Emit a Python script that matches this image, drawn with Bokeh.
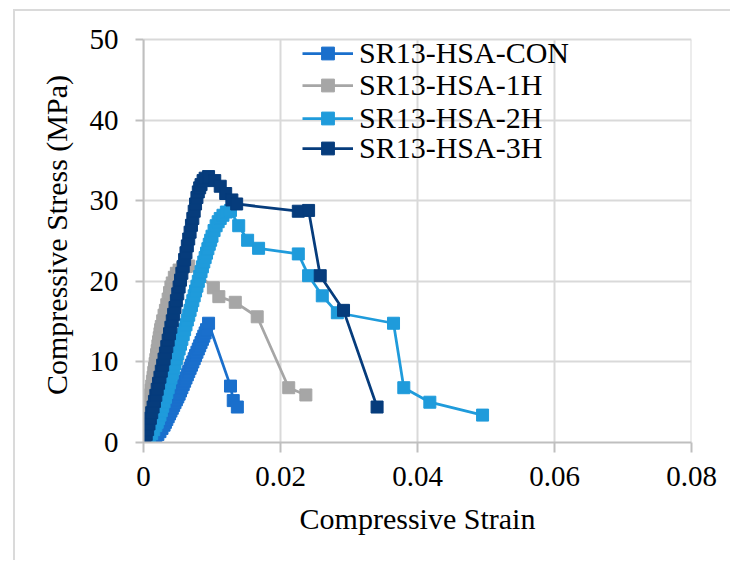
from bokeh.plotting import figure
from bokeh.models import (Legend, LegendItem, FixedTicker, Range1d,
                          CustomJSTickFormatter, InlineStyleSheet)
from bokeh.embed import file_html
from bokeh.resources import INLINE

# ---------------- data ----------------
series_names = ["SR13-HSA-CON", "SR13-HSA-1H", "SR13-HSA-2H", "SR13-HSA-3H"]

con_strain = [0, 0.0008, 0.0014, 0.0018, 0.0021, 0.0024, 0.0027, 0.0030, 0.0032, 0.0034,
              0.0036, 0.0038, 0.0040, 0.0042, 0.0044, 0.0046, 0.0048, 0.0050, 0.0052,
              0.0054, 0.0056, 0.0058, 0.0060, 0.0062, 0.0064, 0.0066, 0.0068, 0.0070,
              0.0072, 0.0074, 0.0076, 0.0078, 0.0080, 0.0082, 0.0084, 0.0086, 0.0088,
              0.0090, 0.0092, 0.0095, 0.0127, 0.0131, 0.0137]
con_stress = [0, 0.2, 0.45, 0.7, 1.0, 1.35, 1.75, 2.15, 2.5, 2.85,
              3.2, 3.55, 3.9, 4.25, 4.6, 4.95, 5.3, 5.65, 6.0,
              6.4, 6.8, 7.2, 7.6, 8.0, 8.4, 8.8, 9.2, 9.6,
              10.0, 10.4, 10.8, 11.2, 11.6, 12.0, 12.4, 12.8, 13.2,
              13.6, 14.0, 14.8, 7.0, 5.2, 4.4]

h1_strain = [0, 0.0001, 0.0002, 0.0003, 0.0004, 0.0005, 0.0006, 0.0007, 0.0008, 0.0009,
             0.0010, 0.0011, 0.0012, 0.0013, 0.0014, 0.0015, 0.0016, 0.0017, 0.0018,
             0.0019, 0.0020, 0.0021, 0.0022, 0.0023, 0.0024, 0.0025, 0.0026, 0.0028,
             0.0030, 0.0032, 0.0034, 0.0036, 0.0038, 0.0040, 0.0042, 0.0045, 0.0048,
             0.0052, 0.0057, 0.0062, 0.0066, 0.0102, 0.0110, 0.0134, 0.0166, 0.0212,
             0.0237]
h1_stress = [0, 0.6, 1.2, 1.8, 2.4, 3.0, 3.6, 4.2, 4.8, 5.4,
             5.9, 6.5, 7.0, 7.6, 8.1, 8.7, 9.2, 9.8, 10.3,
             10.9, 11.4, 12.0, 12.5, 13.0, 13.5, 14.0, 14.4, 15.1,
             15.8, 16.4, 17.1, 17.8, 18.6, 19.3, 19.8, 20.5, 21.0,
             21.4, 21.7, 21.85, 21.9, 19.2, 18.1, 17.4, 15.6, 6.8,
             5.9]

h2_strain = [0, 0.0005, 0.0009, 0.0012, 0.0015, 0.0018, 0.0020, 0.0022, 0.0024, 0.0026,
             0.0028, 0.0030, 0.0032, 0.0034, 0.0036, 0.0038, 0.0040, 0.0042, 0.0044,
             0.0046, 0.0048, 0.0050, 0.0052, 0.0054, 0.0056, 0.0058, 0.0060, 0.0062,
             0.0064, 0.0066, 0.0068, 0.0070, 0.0072, 0.0074, 0.0076, 0.0078, 0.0080,
             0.0082, 0.0084, 0.0086, 0.0088, 0.0090, 0.0092, 0.0094, 0.0096, 0.0098,
             0.0100, 0.0103, 0.0106, 0.0109, 0.0112, 0.0116, 0.0121, 0.0127,
             0.0139, 0.0152, 0.0168, 0.0226, 0.0241, 0.0261, 0.0283, 0.0365, 0.0380,
             0.0418, 0.0495]
h2_stress = [0, 0.3, 0.7, 1.1, 1.6, 2.1, 2.5, 2.95, 3.4, 3.95,
             4.5, 5.05, 5.6, 6.2, 6.8, 7.4, 8.0, 8.6, 9.2,
             9.8, 10.4, 11.0, 11.6, 12.2, 12.8, 13.4, 14.0, 14.6,
             15.2, 15.8, 16.4, 17.0, 17.6, 18.2, 18.8, 19.4, 20.0,
             20.6, 21.2, 21.8, 22.4, 22.95, 23.5, 24.05, 24.6, 25.1,
             25.6, 26.3, 26.9, 27.4, 27.8, 28.2, 28.6, 28.8,
             26.9, 25.1, 24.1, 23.4, 20.7, 18.2, 16.1, 14.8, 6.8,
             5.0, 3.4]

h3_strain = [0, 0.0002, 0.0004, 0.0006, 0.0008, 0.0010, 0.0012, 0.0014, 0.0016, 0.0018,
             0.0020, 0.0022, 0.0024, 0.0026, 0.0028, 0.0030, 0.0032, 0.0034, 0.0036,
             0.0038, 0.0040, 0.0042, 0.0044, 0.0046, 0.0048, 0.0050, 0.0052, 0.0054,
             0.0056, 0.0058, 0.0060, 0.0062, 0.0064, 0.0066, 0.0068, 0.0070, 0.0072,
             0.0074, 0.0076, 0.0078, 0.0080, 0.0082, 0.0084, 0.0087, 0.0090, 0.0095,
             0.0104, 0.0112, 0.0120, 0.0129, 0.0136, 0.0226, 0.0241, 0.0258, 0.0292,
             0.0341]
h3_stress = [0, 0.45, 1.0, 1.6, 2.3, 3.0, 3.7, 4.4, 5.1, 5.85,
             6.6, 7.35, 8.1, 8.85, 9.6, 10.35, 11.1, 11.9, 12.7,
             13.5, 14.3, 15.1, 15.9, 16.75, 17.6, 18.45, 19.3, 20.15,
             21.0, 21.85, 22.7, 23.55, 24.4, 25.25, 26.1, 26.95, 27.8,
             28.7, 29.6, 30.4, 31.1, 31.6, 32.0, 32.5, 32.8, 33.0,
             32.5, 31.8, 30.9, 30.1, 29.6, 28.7, 28.8, 20.7, 16.4,
             4.4]

x_ticks = [0, 0.02, 0.04, 0.06, 0.08]
x_tick_labels = ["0", "0.02", "0.04", "0.06", "0.08"]
y_ticks = [0, 10, 20, 30, 40, 50]
y_tick_labels = ["0", "10", "20", "30", "40", "50"]

x_title = "Compressive Strain"
y_title = "Compressive Stress (MPa)"

colors = ["#1A6FCC", "#A6A6A6", "#1F9BDB", "#063C7C"]
# --------------------------------------

TITLE_FONT = "Liberation Serif"
TICK_FONT = "Times"
LEGEND_FONT = "serif"
GRID = "#D9D9D9"

p = figure(width=717, height=551, output_backend="svg", toolbar_location=None,
           x_range=Range1d(x_ticks[0], x_ticks[-1]),
           y_range=Range1d(y_ticks[0], y_ticks[-1] * 1.03),
           min_border_left=128, min_border_right=41, min_border_top=16,
           min_border_bottom=120)
p.styles = {"margin-left": "13px", "margin-top": "9px",
            "border-left": "2px solid #DADADA", "border-top": "2px solid #DADADA",
            "font-family": "'Liberation Serif', serif"}
p.stylesheets = [InlineStyleSheet(
    css=":host, text { font-family: 'Liberation Serif', serif !important; }")]

p.background_fill_color = "white"
p.border_fill_color = "white"
p.outline_line_color = None

fmt_js = """
const i = vals.findIndex(v => Math.abs(v - tick) < 1e-9);
return i >= 0 ? labs[i] : String(tick);
"""
p.xaxis.ticker = FixedTicker(ticks=x_ticks)
p.yaxis.ticker = FixedTicker(ticks=y_ticks)
p.xaxis.formatter = CustomJSTickFormatter(args=dict(vals=x_ticks, labs=x_tick_labels), code=fmt_js)
p.yaxis.formatter = CustomJSTickFormatter(args=dict(vals=y_ticks, labs=y_tick_labels), code=fmt_js)
p.yaxis.bounds = (y_ticks[0], y_ticks[-1])

p.axis.axis_line_color = "#BFBFBF"
p.axis.axis_line_width = 2
p.axis.major_tick_line_color = "#BFBFBF"
p.axis.major_tick_line_width = 2
p.axis.major_tick_in = 0
p.axis.minor_tick_line_color = None
p.axis.axis_label_text_font = TITLE_FONT
p.axis.axis_label_text_font_size = "30px"
p.axis.axis_label_text_font_style = "normal"
p.axis.axis_label_text_color = "black"

p.axis.major_label_text_font = TICK_FONT
p.axis.major_label_text_font_size = "29px"
p.axis.major_label_text_font_style = "normal"
p.axis.major_label_text_color = "black"

p.xaxis.major_tick_out = 10
p.yaxis.major_tick_out = 8
p.xaxis.major_label_standoff = 14
p.yaxis.major_label_standoff = 17
p.xaxis.axis_label_standoff = 13
p.yaxis.axis_label_standoff = 14
p.xaxis.axis_label = x_title
p.yaxis.axis_label = y_title

# grid
p.xgrid.visible = False
p.ygrid.ticker = FixedTicker(ticks=y_ticks)
p.ygrid.grid_line_color = GRID
p.ygrid.grid_line_width = 2
p.segment(x0=x_ticks, y0=[y_ticks[0]] * len(x_ticks), x1=x_ticks,
          y1=[y_ticks[-1]] * len(x_ticks), line_color=GRID, line_width=2, level="underlay")

series = [(con_strain, con_stress), (h1_strain, h1_stress),
          (h2_strain, h2_stress), (h3_strain, h3_stress)]

legend_y = [372, 340, 307, 277]
for name, (xs, ys), c, ly in zip(series_names, series, colors, legend_y):
    l = p.line(xs, ys, line_color=c, line_width=2.75)
    s = p.scatter(xs, ys, marker="square", size=12, fill_color=c, line_color=c)
    lg = Legend(items=[LegendItem(label=name, renderers=[l, s])], location=(159, ly))
    lg.background_fill_alpha = 0
    lg.border_line_alpha = 0
    lg.padding = 0
    lg.margin = 0
    lg.spacing = 0
    lg.label_height = 32
    lg.glyph_height = 32
    lg.glyph_width = 51
    lg.label_standoff = 6
    lg.label_text_font = LEGEND_FONT
    lg.label_text_font_size = "30px"
    lg.label_text_font_style = "normal"
    lg.label_text_color = "black"
    p.add_layout(lg, "center")

open("out.html", "w").write(file_html(p, INLINE))
